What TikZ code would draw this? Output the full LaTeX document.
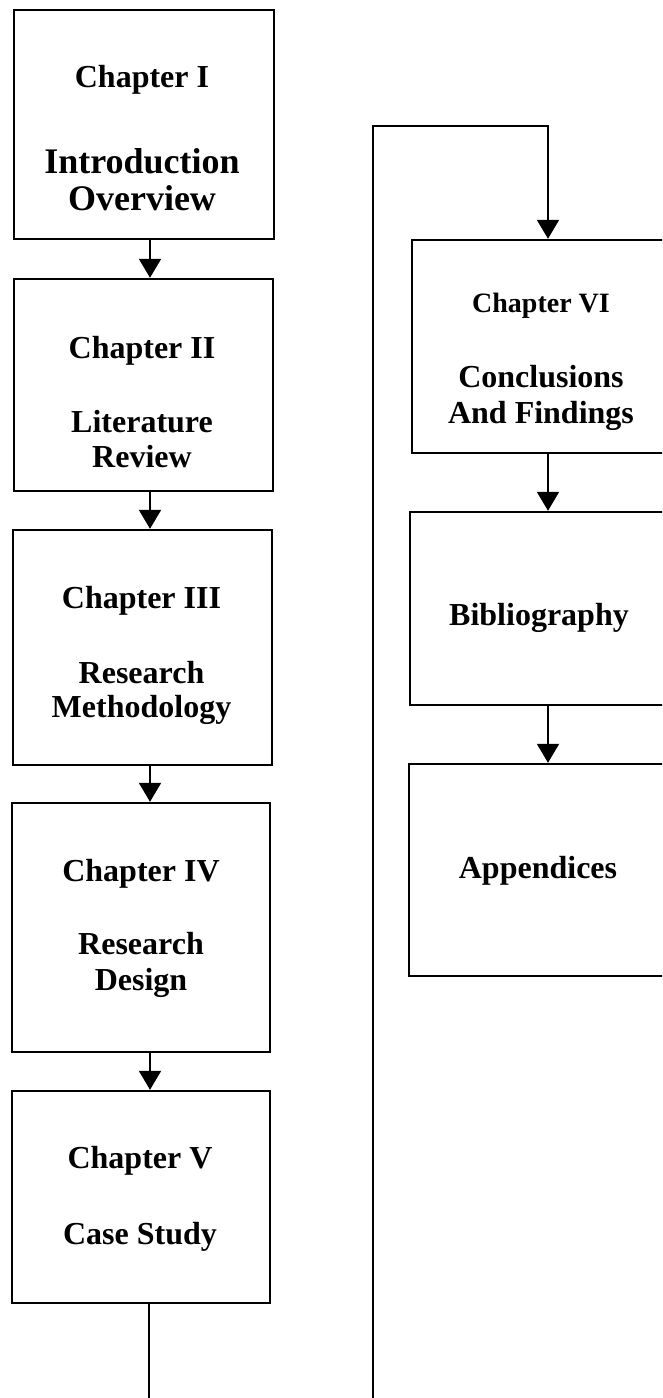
\documentclass[tikz,border=0pt]{standalone}
\usepackage{fontspec}
\setmainfont{Liberation Serif}
\usetikzlibrary{arrows.meta}
\begin{document}
\begin{tikzpicture}[x=1pt,y=-1pt,
  box/.style={draw, line width=2.4pt, inner sep=0pt, minimum width=#1},
  lab/.style={inner sep=0pt, anchor=base, font=\bfseries\fontsize{32}{32}\selectfont},
  big/.style={lab, font=\bfseries\fontsize{36}{36}\selectfont},
  small/.style={lab, font=\bfseries\fontsize{28}{28}\selectfont},
  conn/.style={line width=2pt, -{Triangle[width=22pt,length=19pt]}},
  wire/.style={line width=2pt}]
\useasboundingbox (0,0) rectangle (662,1398);
\clip (0,0) rectangle (662,1398);

% left column of chapters
\node[box=260pt, minimum height=229pt] (b1) at (144,124.5) {};
\node[box=259pt, minimum height=212pt] (b2) at (143.5,385) {};
\node[box=259pt, minimum height=235pt] (b3) at (142.5,647.5) {};
\node[box=258pt, minimum height=249pt] (b4) at (141,927.5) {};
\node[box=258pt, minimum height=212pt] (b5) at (141,1197) {};

% right column
\node[box=258pt, minimum height=213pt] (b6) at (541,346.5) {};
\node[box=260pt, minimum height=193pt] (b7) at (540,608.5) {};
\node[box=261pt, minimum height=212pt] (b8) at (539.5,870) {};

% box texts
\node[lab] (t1a) at (142,87) {Chapter I};
\node[big] (t1b) at (142,173) {Introduction};
\node[big] (t1c) at (142,210) {Overview};

\node[lab] (t2a) at (142,358) {Chapter II};
\node[lab] (t2b) at (142,432) {Literature};
\node[lab] (t2c) at (142,467) {Review};

\node[lab] (t3a) at (141.5,608) {Chapter III};
\node[lab] (t3b) at (141.5,683) {Research};
\node[lab] (t3c) at (141.5,717) {Methodology};

\node[lab] (t4a) at (141,881) {Chapter IV};
\node[lab] (t4b) at (141,954) {Research};
\node[lab] (t4c) at (141,990) {Design};

\node[lab] (t5a) at (140,1168) {Chapter V};
\node[lab] (t5b) at (140,1244) {Case Study};

\node[small] (t6a) at (541,312) {Chapter VI};
\node[lab] (t6b) at (541,387) {Conclusions};
\node[lab] (t6c) at (541,423) {And Findings};

\node[lab] (t7) at (539,625) {Bibliography};
\node[lab] (t8) at (538,878) {Appendices};

% connector columns
\coordinate (la) at (150,0);
\coordinate (ra) at (548,0);

\draw[conn] (b1.south -| la) -- (b2.north -| la);
\draw[conn] (b2.south -| la) -- (b3.north -| la);
\draw[conn] (b3.south -| la) -- (b4.north -| la);
\draw[conn] (b4.south -| la) -- (b5.north -| la);

\draw[conn] (b6.south -| ra) -- (b7.north -| ra);
\draw[conn] (b7.south -| ra) -- (b8.north -| ra);

% route from Chapter V round to Chapter VI
\coordinate (loopL) at (149,1440);
\coordinate (loopR) at (373,1440);
\coordinate (loopT) at (373,126);
\draw[conn] (b5.south -| loopL) -- (loopL) -- (loopR) -- (loopT) -| (b6.north -| ra);
\end{tikzpicture}
\end{document}
